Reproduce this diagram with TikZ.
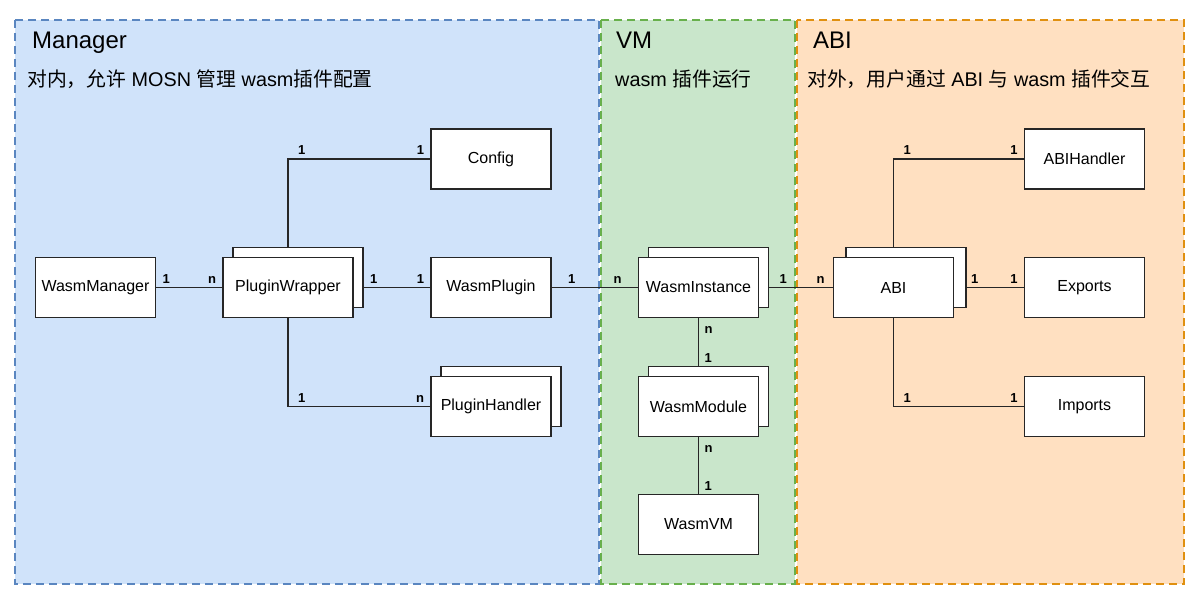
\documentclass[tikz,border=0pt]{standalone}
\usepackage{fontspec}
\setmainfont{Liberation Sans}
\newfontfamily\cjk{Noto Sans CJK SC}
\definecolor{mgrfill}{RGB}{208,227,250}
\definecolor{mgrline}{RGB}{90,134,192}
\definecolor{vmfill}{RGB}{201,230,203}
\definecolor{vmline}{RGB}{104,176,76}
\definecolor{abifill}{RGB}{255,224,193}
\definecolor{abiline}{RGB}{224,144,16}
\tikzset{
  panel/.style={line width=2pt, dash pattern=on 8pt off 5pt},
  title/.style={anchor=base west, inner sep=0pt, font=\fontsize{24}{28}\selectfont},
  subtitle/.style={anchor=base west, inner sep=0pt, font=\fontsize{19.8}{23}\selectfont},
  box/.style={draw=black!85, fill=white, line width=1.6pt, minimum width=120pt,
    minimum height=60pt, inner sep=0pt, font=\fontsize{16}{19}\selectfont},
  link/.style={draw=black!85, line width=1.5pt},
  tag/.style={inner sep=0pt, font=\bfseries\fontsize{13}{13}\selectfont},
  tagr/.style={tag, anchor=south west, xshift=6pt, yshift=4pt},
  tagl/.style={tag, anchor=south east, xshift=-6pt, yshift=4pt},
  tagd/.style={tag, anchor=north west, xshift=6pt, yshift=-8pt},
  tagu/.style={tag, anchor=south west, xshift=6pt, yshift=3pt}
}
\begin{document}
\begin{tikzpicture}[x=1pt,y=-1pt]
\useasboundingbox (0,0) rectangle (1201,605);
% panels
\draw[panel, fill=mgrfill, draw=mgrline] (15,20) rectangle (599,584);
\draw[panel, fill=vmfill, draw=vmline] (601,20) rectangle (795,584);
\draw[panel, fill=abifill, draw=abiline] (797,20) rectangle (1184,584);
\node[title] (tmgr) at (32,48) {Manager};
\node[title] (tvm) at (616,48) {VM};
\node[title] (tabi) at (813,48) {ABI};
\node[subtitle] (smgr) at (27,86) {{\cjk 对内，允许} MOSN {\cjk 管理} wasm{\cjk 插件配置}};
\node[subtitle] (svm) at (615,86) {wasm {\cjk 插件运行}};
\node[subtitle] (sabi) at (807,86) {{\cjk 对外，用户通过} ABI {\cjk 与} wasm {\cjk 插件交互}};
% manager
\node[box] (wm) at (95.5,287.5) {WasmManager};
\node[box, minimum width=130pt] (pwb) at (298,277.5) {};
\node[box, minimum width=130pt] (pw) at (288,287.5) {PluginWrapper};
\node[box] (cfg) at (491,159) {Config};
\node[box] (wp) at (491,287.5) {WasmPlugin};
\node[box] (phb) at (501,396.5) {};
\node[box] (ph) at (491,406.5) {PluginHandler};
% vm
\node[box] (wib) at (708.5,277.5) {};
\node[box] (wi) at (698.5,287.5) {WasmInstance};
\node[box] (wmodb) at (708.5,396.5) {};
\node[box] (wmod) at (698.5,406.5) {WasmModule};
\node[box] (wvm) at (698.5,524.5) {WasmVM};
% abi
\node[box] (abib) at (906,277.5) {};
\node[box] (abi) at (893.5,287.5) {ABI};
\node[box] (abih) at (1084.5,159) {ABIHandler};
\node[box] (exp) at (1084.5,287.5) {Exports};
\node[box] (imp) at (1084.5,406.5) {Imports};
% links
\draw[link] (wm.east) -- (pw.west);
\node[tagr] at (wm.east) {1};
\node[tagl] at (pw.west) {n};
\draw[link] (pw.north |- pwb.north) |- (cfg.west);
\node[tagr, xshift=4pt] at (pw.north |- cfg.west) {1};
\node[tagl] at (cfg.west) {1};
\draw[link] (pwb.east |- pw.east) -- (wp.west);
\node[tagr] at (pwb.east |- pw.east) {1};
\node[tagl] at (wp.west) {1};
\draw[link] (pw.south) |- (ph.west);
\node[tagr, xshift=4pt] at (pw.south |- ph.west) {1};
\node[tagl] at (ph.west) {n};
\draw[link] (wp.east) -- (wi.west);
\node[tagr, xshift=10pt] at (wp.east) {1};
\node[tagl, xshift=-10pt] at (wi.west) {n};
\draw[link] (wib.east |- wi.east) -- (abi.west);
\node[tagr, xshift=4pt] at (wib.east |- wi.east) {1};
\node[tagl, xshift=-2pt] at (abi.west) {n};
\draw[link] (wi.south) -- (wi.south |- wmodb.north);
\node[tagd] at (wi.south) {n};
\node[tagu] at (wi.south |- wmodb.north) {1};
\draw[link] (wmod.south) -- (wvm.north);
\node[tagd] at (wmod.south) {n};
\node[tagu] at (wvm.north) {1};
\draw[link] (abi.north |- abib.north) |- (abih.west);
\node[tagr, xshift=4pt] at (abi.north |- abih.west) {1};
\node[tagl] at (abih.west) {1};
\draw[link] (abib.east |- abi.east) -- (exp.west);
\node[tagr, xshift=-2pt] at (abib.east |- abi.east) {1};
\node[tagl] at (exp.west) {1};
\draw[link] (abi.south) |- (imp.west);
\node[tagr, xshift=4pt] at (abi.south |- imp.west) {1};
\node[tagl] at (imp.west) {1};
\end{tikzpicture}
\end{document}
